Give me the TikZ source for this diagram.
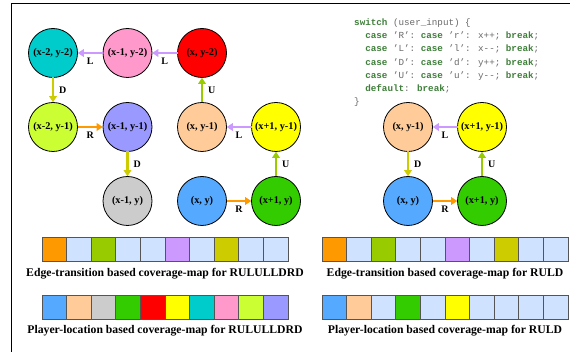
\documentclass[tikz,border=0pt]{standalone}
\usepackage{fontspec}
\setmainfont{Liberation Serif}
\newfontfamily\codefont{Liberation Mono}
\usetikzlibrary{arrows.meta}
\definecolor{nCyan}{HTML}{00CCCC}
\definecolor{nPink}{HTML}{FF99CC}
\definecolor{nRed}{HTML}{FF0000}
\definecolor{nLime}{HTML}{CCFF33}
\definecolor{nLav}{HTML}{9999FF}
\definecolor{nPeach}{HTML}{FFCC99}
\definecolor{nYel}{HTML}{FFFF00}
\definecolor{nGray}{HTML}{CCCCCC}
\definecolor{nBlue}{HTML}{55AAFF}
\definecolor{nGreen}{HTML}{33CC00}
\definecolor{eR}{HTML}{FF9900}
\definecolor{eU}{HTML}{99CC00}
\definecolor{eL}{HTML}{CC99FF}
\definecolor{eD}{HTML}{CCCC00}
\definecolor{lb}{HTML}{CFE2FF}
\definecolor{kwc}{HTML}{3F7F3A}
\definecolor{codec}{HTML}{6A6A6A}
\definecolor{boxc}{HTML}{555555}
\newcommand{\kw}[1]{{\bfseries\color{kwc}#1}}
\newcommand{\dd}{\hbox{-}\hbox{-}}
\begin{document}
\begin{tikzpicture}[x=1pt,y=-1pt,
  st/.style={circle, draw=black, line width=0.8pt, minimum size=49pt, inner sep=0pt, outer sep=0pt,
    font=\bfseries\fontsize{10.3}{12}\selectfont},
  ar/.style={line width=2.4pt, -{Triangle[width=7.5pt,length=6pt]}, shorten >=0.3pt},
  lblh/.style={midway, yshift=-8pt, inner sep=0pt, text=black, font=\bfseries\fontsize{10}{12}\selectfont},
  lblv/.style={midway, xshift=5pt, anchor=west, inner sep=0pt, text=black, font=\bfseries\fontsize{10}{12}\selectfont},
  cell/.style={draw=boxc, line width=0.8pt, minimum width=24.6pt, minimum height=24pt, inner sep=0pt, outer sep=0pt},
  captext/.style={anchor=base, inner sep=0pt, font=\bfseries\fontsize{11.7}{14}\selectfont},
  code/.style={anchor=base west, inner sep=0pt, text=codec, font=\codefont\fontsize{9.25}{11}\selectfont}
]
\useasboundingbox (0,0) rectangle (570,352);
\fill[white] (0,0) rectangle (570,352);
\draw[line width=1pt] (11,352) -- (11,4) -- (570,4);

% left graph
\node[st, fill=nCyan]  (a1) at (53,53)  {(x-2, y-2)};
\node[st, fill=nPink]  (a2) at (127.5,53) {(x-1, y-2)};
\node[st, fill=nRed]   (a3) at (202,53) {(x, y-2)};
\node[st, fill=nLime]  (b1) at (53,127) {(x-2, y-1)};
\node[st, fill=nLav]   (b2) at (127.5,127) {(x-1, y-1)};
\node[st, fill=nPeach] (b3) at (202,127) {(x, y-1)};
\node[st, fill=nYel]   (b4) at (276,127) {(x+1, y-1)};
\node[st, fill=nGray]  (c2) at (127.5,201) {(x-1, y)};
\node[st, fill=nBlue]  (c3) at (202,201) {(x, y)};
\node[st, fill=nGreen] (c4) at (276,201) {(x+1, y)};

\draw[ar, eR] (c3) -- node[lblh]{R} (c4);
\draw[ar, eU] (c4) -- node[lblv]{U} (b4);
\draw[ar, eL] (b4) -- node[lblh]{L} (b3);
\draw[ar, eU] (b3) -- node[lblv]{U} (a3);
\draw[ar, eL] (a3) -- node[lblh]{L} (a2);
\draw[ar, eL] (a2) -- node[lblh]{L} (a1);
\draw[ar, eD] (a1) -- node[lblv]{D} (b1);
\draw[ar, eR] (b1) -- node[lblh]{R} (b2);
\draw[ar, eD] (b2) -- node[lblv]{D} (c2);

% right graph
\node[st, fill=nPeach] (rb3) at (408,127) {(x, y-1)};
\node[st, fill=nYel]   (rb4) at (482,127) {(x+1, y-1)};
\node[st, fill=nBlue]  (rc3) at (408,201) {(x, y)};
\node[st, fill=nGreen] (rc4) at (482,201) {(x+1, y)};
\draw[ar, eR] (rc3) -- node[lblh]{R} (rc4);
\draw[ar, eU] (rc4) -- node[lblv]{U} (rb4);
\draw[ar, eL] (rb4) -- node[lblh]{L} (rb3);
\draw[ar, eD] (rb3) -- node[lblv]{D} (rc3);

% code
\node[code] (l1) at (354,25.5) {\kw{switch} (user\_input) \{};
\node[code] (l2) at (365.1,38.7) {\kw{case} ’R’: \kw{case} ’r’: x++; \kw{break};};
\node[code] (l3) at (365.1,51.9) {\kw{case} ’L’: \kw{case} ’l’: x\dd; \kw{break};};
\node[code] (l4) at (365.1,65.1) {\kw{case} ’D’: \kw{case} ’d’: y++; \kw{break};};
\node[code] (l5) at (365.1,78.3) {\kw{case} ’U’: \kw{case} ’u’: y\dd; \kw{break};};
\node[code] (l6) at (365.1,91.5) {\kw{default}: \kw{break};};
\node[code] (l7) at (354,104.2) {\}};

% coverage maps
\foreach \c [count=\i from 0] in {eR,lb,eU,lb,lb,eL,lb,eD,lb,lb}
  \node[cell, fill=\c] (el\i) at ({42+12.3+24.6*\i},249) {};
\foreach \c [count=\i from 0] in {nBlue,nPeach,nGray,nGreen,nRed,nYel,nCyan,nPink,nLime,nLav}
  \node[cell, fill=\c] (pl\i) at ({42+12.3+24.6*\i},307) {};
\foreach \c [count=\i from 0] in {eR,lb,eU,lb,lb,eL,lb,eD,lb,lb}
  \node[cell, fill=\c] (er\i) at ({322+12.3+24.6*\i},249) {};
\foreach \c [count=\i from 0] in {nBlue,nPeach,lb,nGreen,lb,nYel,lb,lb,lb,lb}
  \node[cell, fill=\c] (pr\i) at ({322+12.3+24.6*\i},307) {};

\node[captext] (cap1) at (165,277) {Edge-transition based coverage-map for RULULLDRD};
\node[captext] (cap2) at (445,277) {Edge-transition based coverage-map for RULD};
\node[captext] (cap3) at (165,334) {Player-location based coverage-map for RULULLDRD};
\node[captext] (cap4) at (445,334) {Player-location based coverage-map for RULD};
\end{tikzpicture}
\end{document}
